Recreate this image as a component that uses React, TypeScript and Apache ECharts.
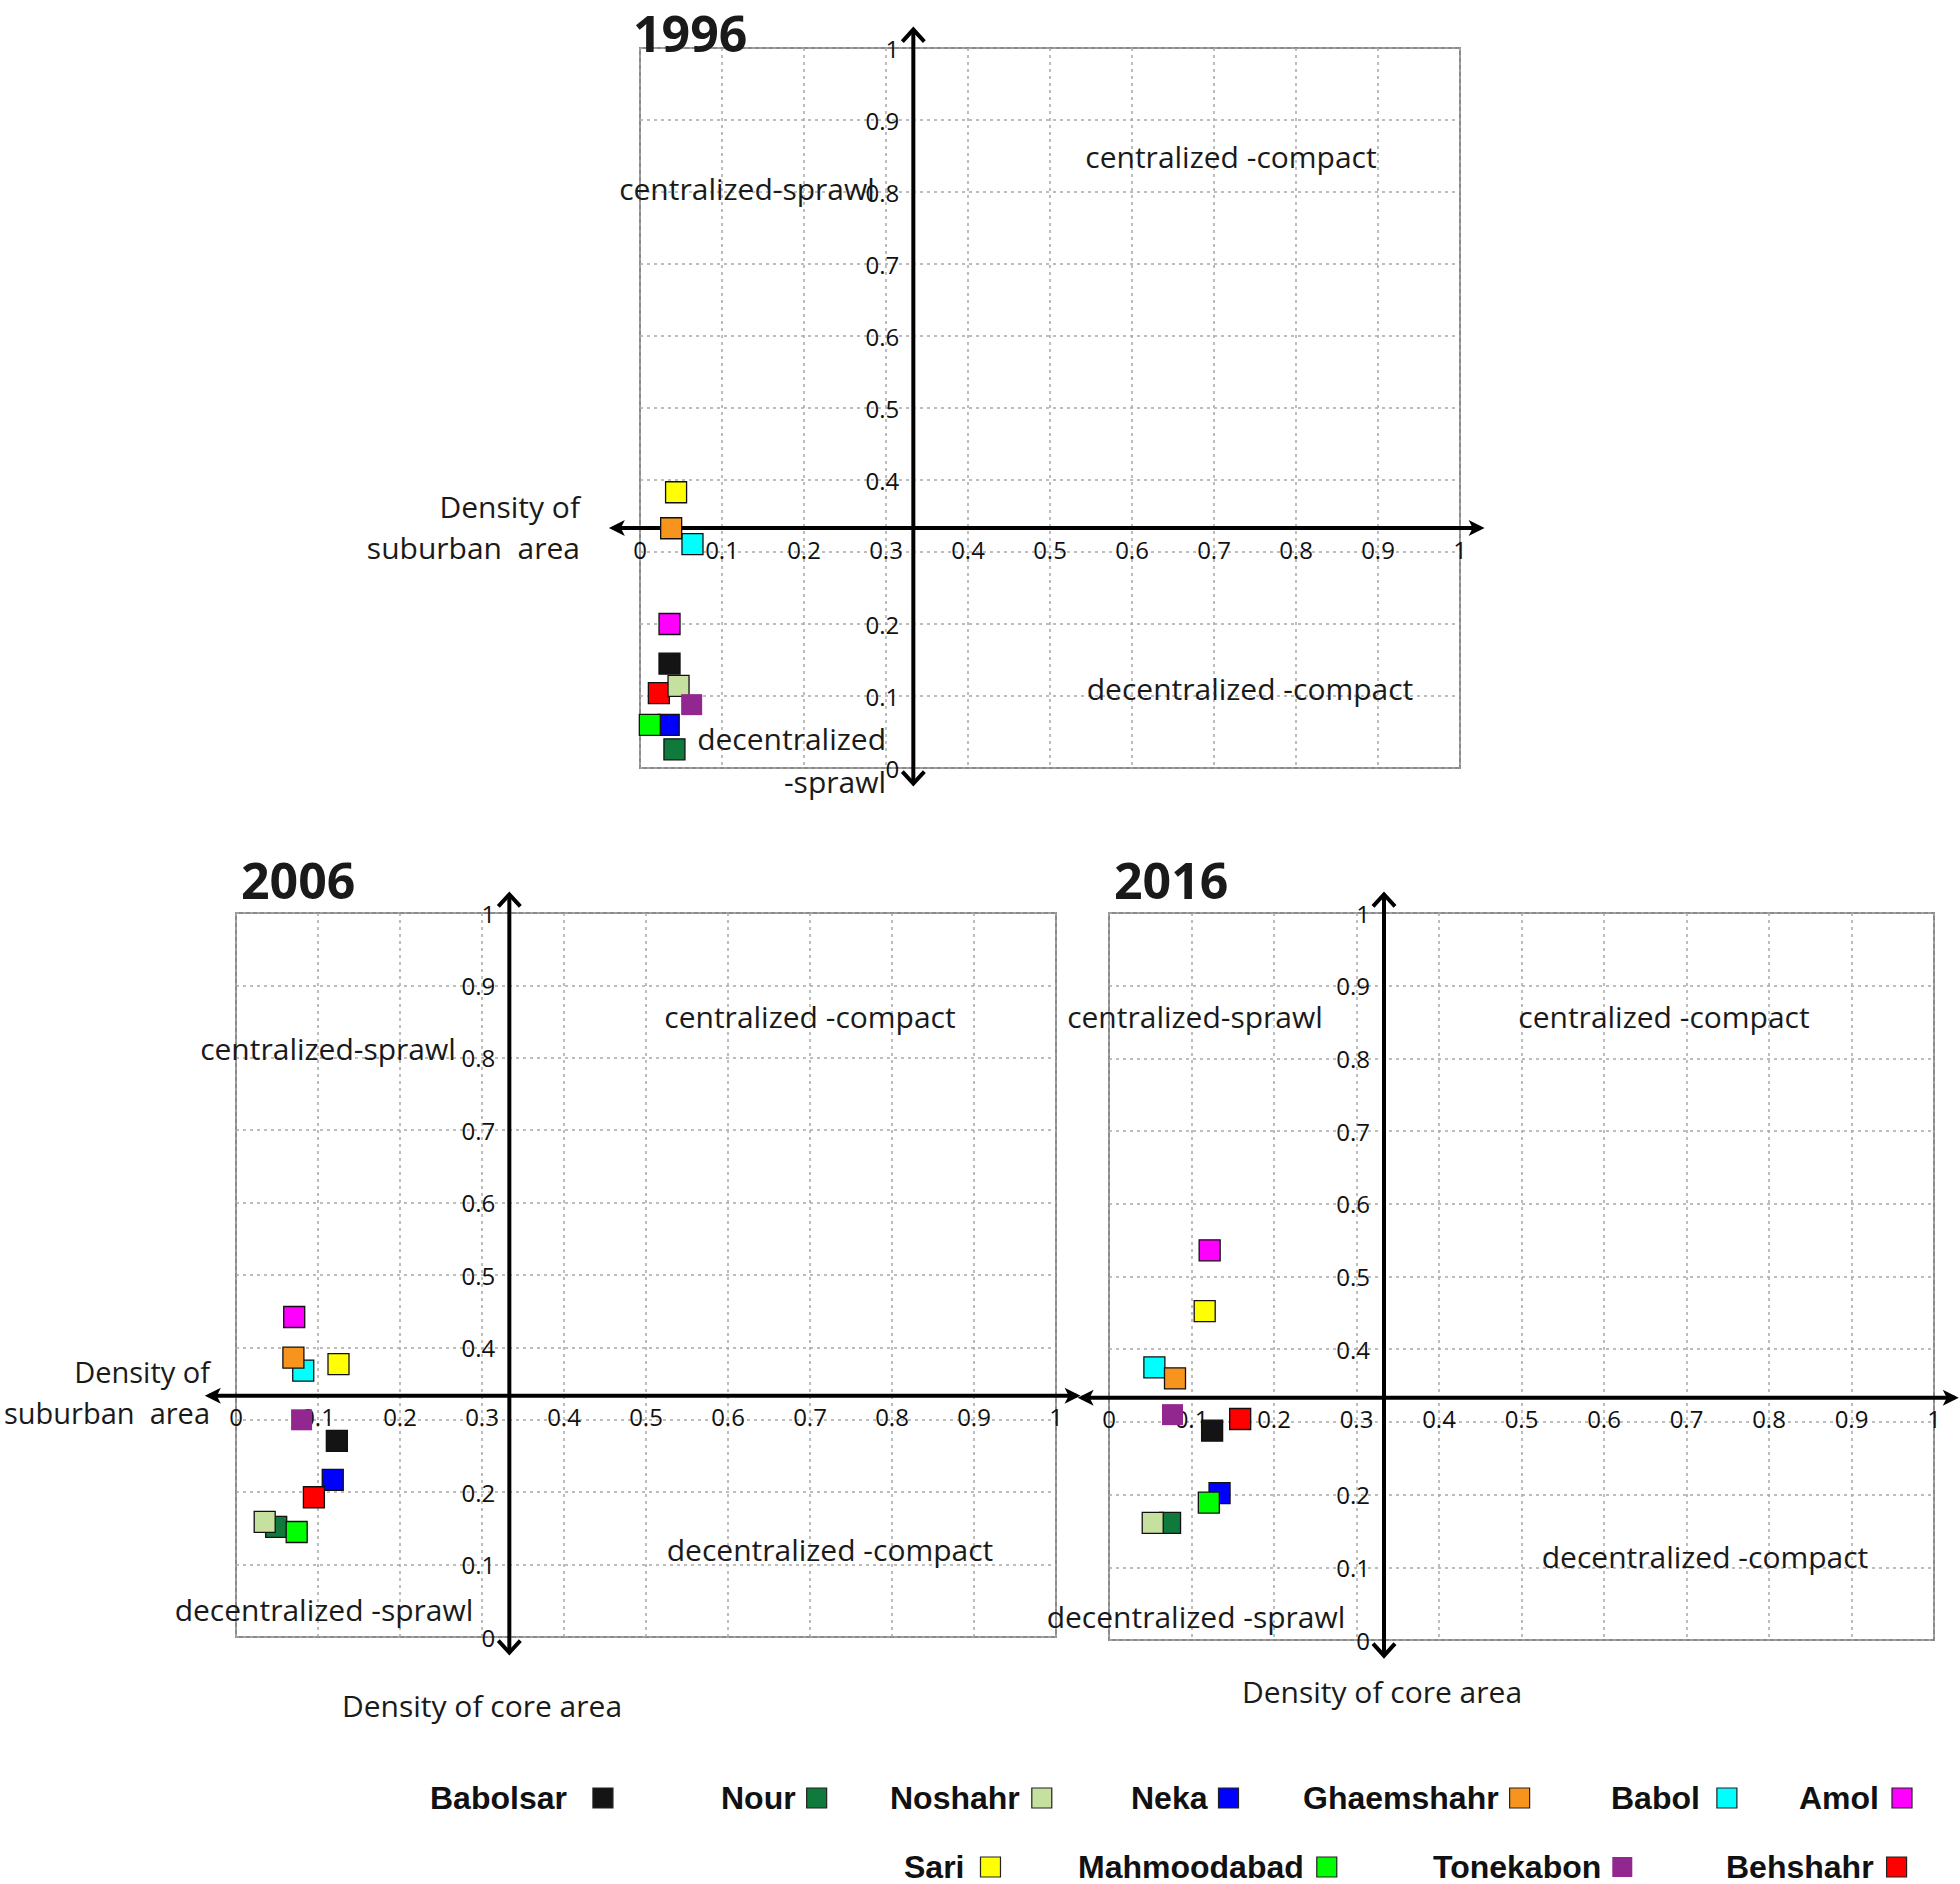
import React, { useEffect, useRef } from 'react';
import * as echarts from 'echarts';

// ---------- data ----------
const cities = ['Babolsar', 'Nour', 'Noshahr', 'Neka', 'Ghaemshahr', 'Babol', 'Amol', 'Sari', 'Mahmoodabad', 'Tonekabon', 'Behshahr'];
const cityColors = ['#141414', '#0f7a3b', '#c6e0a0', '#0000ff', '#f7941d', '#00ffff', '#ff00ff', '#ffff00', '#00ff00', '#922790', '#ff0000'];

// density of core area (x) and density of suburban area (y)
const core1996 = [0.036, 0.042, 0.047, 0.035, 0.038, 0.064, 0.036, 0.044, 0.012, 0.063, 0.023];
const suburb1996 = [0.145, 0.026, 0.114, 0.06, 0.333, 0.311, 0.2, 0.383, 0.06, 0.088, 0.104];
const core2006 = [0.123, 0.049, 0.035, 0.118, 0.07, 0.082, 0.071, 0.125, 0.074, 0.08, 0.095];
const suburb2006 = [0.271, 0.152, 0.159, 0.217, 0.386, 0.368, 0.442, 0.377, 0.145, 0.3, 0.193];
const core2016 = [0.125, 0.074, 0.053, 0.134, 0.08, 0.055, 0.122, 0.116, 0.121, 0.077, 0.159];
const suburb2016 = [0.288, 0.161, 0.161, 0.202, 0.36, 0.375, 0.536, 0.4525, 0.189, 0.31, 0.304];

const years = ['1996', '2006', '2016'];
const coreByYear = [core1996, core2006, core2016];
const suburbByYear = [suburb1996, suburb2006, suburb2016];

const axisMin = 0;
const axisMax = 1;
const tickStep = 0.1;
const crossValue = 1 / 3; // where the central axes cross
const hiddenYTick = 0.3;

const quadrantNames = ['centralized-sprawl', 'centralized -compact', 'decentralized -compact', 'decentralized -sprawl'];
const yAxisTitle = 'Density of\nsuburban  area';
const xAxisTitle = 'Density of core area';

// ---------- layout ----------
const panels = [
  { left: 640, top: 48, width: 820, height: 720 },
  { left: 236, top: 913, width: 820, height: 724 },
  { left: 1109, top: 913, width: 825, height: 727 },
];
const titlePos = [[633, 33], [241, 880], [1114, 880]];
// quadrant label positions [cs, cc, dc, ds]
const quadPos = [
  [[747, 188], [1231, 156], [1250, 688], [886, 760]],
  [[328, 1048], [810, 1016], [830, 1549], [324, 1609]],
  [[1195, 1016], [1664, 1016], [1705, 1556], [1196, 1616]],
];
const drawOrder = [1, 5, 3, 10, 0, 2, 8, 4, 7, 6, 9];

const legendLayout = [
  { left: 430, top: 1782, gap: 26 },
  { left: 721, top: 1782, gap: 11 },
  { left: 890, top: 1782, gap: 12 },
  { left: 1131, top: 1782, gap: 11 },
  { left: 1303, top: 1782, gap: 11 },
  { left: 1611, top: 1782, gap: 17 },
  { left: 1799, top: 1782, gap: 13 },
  { left: 904, top: 1851, gap: 16 },
  { left: 1078, top: 1851, gap: 13 },
  { left: 1433, top: 1851, gap: 11 },
  { left: 1726, top: 1851, gap: 13 },
];

const fmt = (v: number) => String(Number(v.toFixed(1)));
const FONT = 'Open Sans';

export default function App() {
  const ref = useRef<HTMLDivElement>(null);

  useEffect(() => {
    if (!ref.current) return;
    const chart = echarts.init(ref.current, undefined, { renderer: 'svg' });

    const grids = panels.map((p) => ({
      left: p.left, top: p.top, width: p.width, height: p.height,
      show: true, borderColor: '#8a8a8a', borderWidth: 2, backgroundColor: 'transparent',
    }));
    const splitLine = { show: true, lineStyle: { color: '#a8a8a8', type: [3, 4], width: 1.5 } };
    const xAxes = panels.map((p, i) => ({
      type: 'value', gridIndex: i, min: axisMin, max: axisMax, interval: tickStep,
      position: 'bottom', offset: -p.height * crossValue,
      axisLine: { show: false, onZero: false }, axisTick: { show: false },
      axisLabel: { margin: 9, fontSize: 24, fontFamily: FONT, color: '#111', formatter: (v: number) => fmt(v) },
      splitLine,
    }));
    const yAxes = panels.map((p, i) => ({
      type: 'value', gridIndex: i, min: axisMin, max: axisMax, interval: tickStep,
      position: 'left', offset: -p.width * crossValue,
      axisLine: { show: false, onZero: false }, axisTick: { show: false },
      axisLabel: {
        margin: 14, fontSize: 24, fontFamily: FONT, color: '#111',
        formatter: (v: number) => (Math.abs(v - hiddenYTick) < 1e-6 ? '' : fmt(v)),
      },
      splitLine,
    }));

    const series: any[] = [];
    years.forEach((_, i) => {
      drawOrder.forEach((j, k) => {
        series.push({
          type: 'scatter', name: cities[j], xAxisIndex: i, yAxisIndex: i,
          symbol: 'rect', symbolSize: 21, z: 3 + k * 0.01,
          data: [[coreByYear[i][j], suburbByYear[i][j]]],
          itemStyle: {
            color: cityColors[j], opacity: 1,
            borderColor: '#111', borderWidth: cities[j] === 'Tonekabon' ? 0 : 1.3,
          },
          emphasis: { disabled: true },
        });
      });
    });

    const legends = cities.map((c, j) => ({
      data: [{ name: c, icon: 'rect', itemStyle: { color: cityColors[j], borderColor: '#222', borderWidth: c === 'Tonekabon' ? 0 : 1.2 } }],
      left: legendLayout[j].left, top: legendLayout[j].top,
      align: 'right', orient: 'horizontal', itemWidth: 20, itemHeight: 20, padding: 0,
      selectedMode: false,
      textStyle: {
        fontFamily: 'Liberation Sans', fontWeight: 'bold', fontSize: 32, color: '#111',
        padding: [0, legendLayout[j].gap - 5, 0, 0],
      },
    }));

    chart.setOption({
      animation: false,
      backgroundColor: '#ffffff',
      textStyle: { fontFamily: FONT },
      grid: grids,
      xAxis: xAxes,
      yAxis: yAxes,
      legend: legends,
      series,
    });

    // central axes with arrows, positioned through the axes' own scales
    const els: any[] = [];
    const AX = { stroke: '#000', lineWidth: 4 };
    panels.forEach((_, i) => {
      const px = (x: number, y: number) => chart.convertToPixel({ gridIndex: i } as any, [x, y]) as number[];
      const hA = px(-0.038, crossValue);
      const hB = px(1.03, crossValue);
      const vT = px(crossValue, 1.027);
      const vB = px(crossValue, -0.023);
      els.push({ type: 'line', z: 1, shape: { x1: hA[0] + 4, y1: hA[1], x2: hB[0] - 4, y2: hB[1] }, style: AX });
      els.push({ type: 'line', z: 1, shape: { x1: vT[0], y1: vT[1] + 2, x2: vB[0], y2: vB[1] - 2 }, style: AX });
      els.push({ type: 'polygon', z: 1, shape: { points: [[hA[0], hA[1]], [hA[0] + 16, hA[1] - 8], [hA[0] + 12, hA[1]], [hA[0] + 16, hA[1] + 8]] }, style: { fill: '#000' } });
      els.push({ type: 'polygon', z: 1, shape: { points: [[hB[0], hB[1]], [hB[0] - 16, hB[1] - 8], [hB[0] - 12, hB[1]], [hB[0] - 16, hB[1] + 8]] }, style: { fill: '#000' } });
      els.push({ type: 'polyline', z: 1, shape: { points: [[vT[0] - 11, vT[1] + 13], [vT[0], vT[1] + 1], [vT[0] + 11, vT[1] + 13]] }, style: { stroke: '#000', lineWidth: 4, fill: null } });
      els.push({ type: 'polyline', z: 1, shape: { points: [[vB[0] - 11, vB[1] - 13], [vB[0], vB[1] - 1], [vB[0] + 11, vB[1] - 13]] }, style: { stroke: '#000', lineWidth: 4, fill: null } });
    });

    const txt = (text: string, x: number, y: number, size: number, align: string, weight = 'normal', lineHeight?: number) => ({
      type: 'text', x, y, z: 2,
      style: {
        text, fill: '#1a1a1a', fontFamily: FONT, fontSize: size, fontWeight: weight,
        align, verticalAlign: 'middle', lineHeight: lineHeight || size * 1.2,
      },
    });

    years.forEach((y, i) => {
      els.push(txt(y, titlePos[i][0], titlePos[i][1], 50, 'left', 'bold', 50));
      quadPos[i].forEach((p, q) => {
        let t = quadrantNames[q];
        let align = 'center';
        if (i === 0 && q === 3) { t = 'decentralized\n-sprawl'; align = 'right'; }
        els.push(txt(t, p[0], p[1], 30, align, 'normal', 43));
      });
    });
    els.push(txt(yAxisTitle, 580, 527, 30, 'right', 'normal', 41));
    els.push(txt(yAxisTitle, 210, 1392, 29, 'right', 'normal', 41));
    els.push(txt(xAxisTitle, 482, 1705, 30, 'center'));
    els.push(txt(xAxisTitle, 1382, 1691, 30, 'center'));

    chart.setOption({ graphic: { elements: els } });

    return () => chart.dispose();
  }, []);

  return <div ref={ref} style={{ position: 'absolute', left: 0, top: 0, width: 1960, height: 1884 }} />;
}
